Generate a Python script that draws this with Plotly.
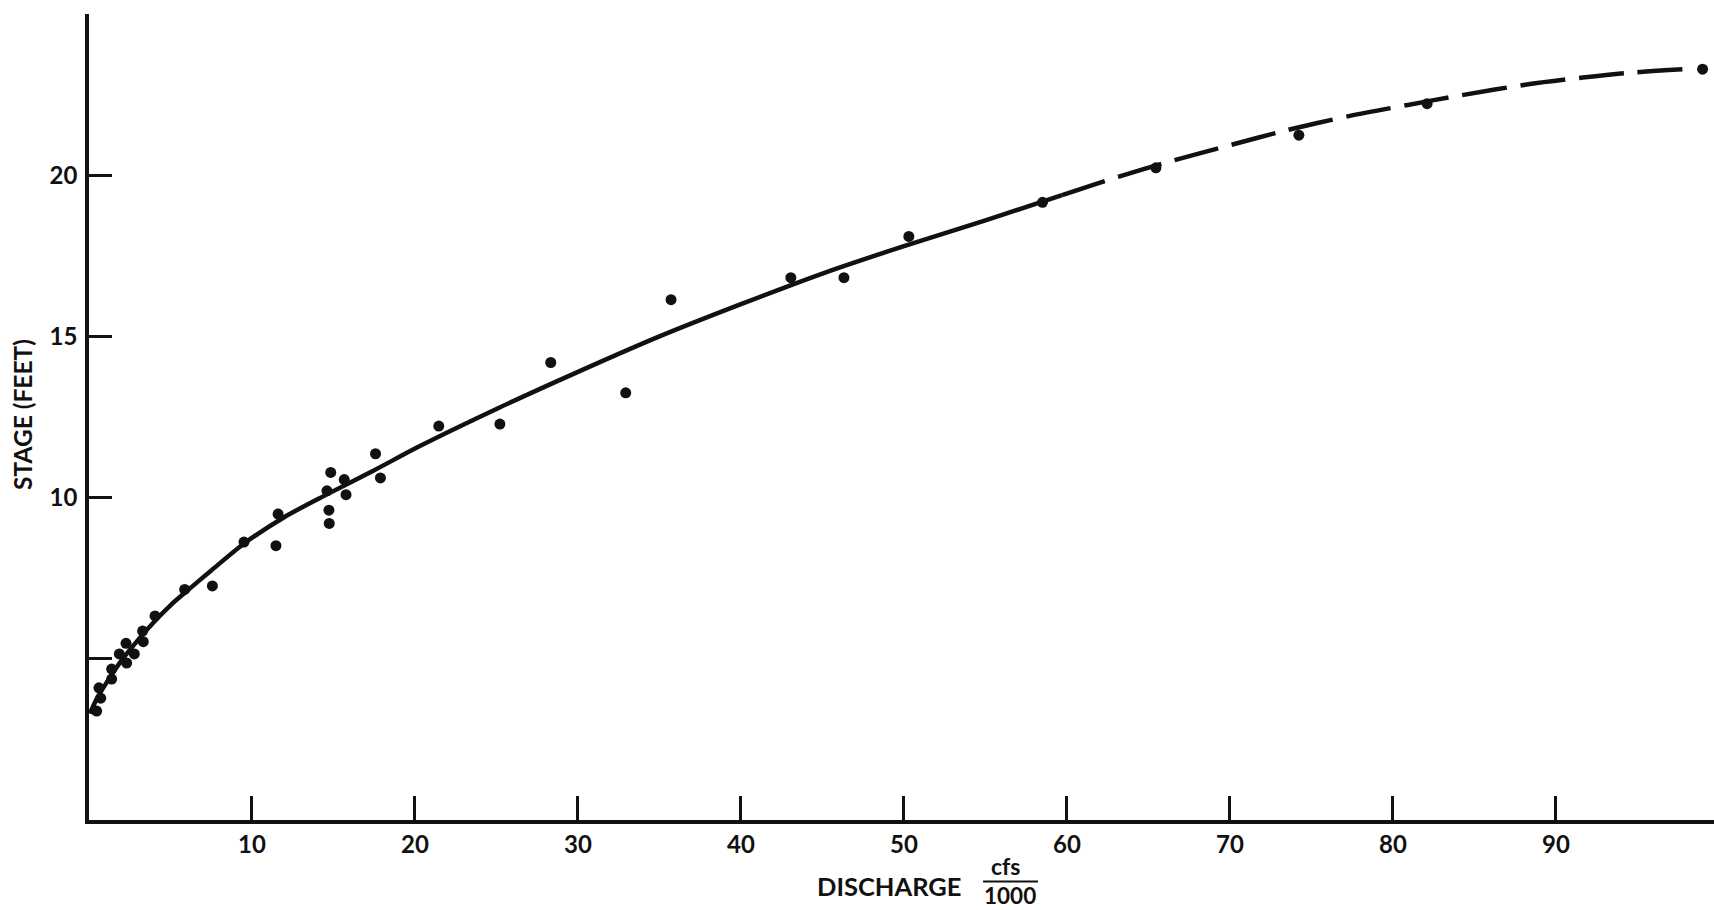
import plotly.graph_objects as go

# Measured discharge (thousand cfs) and stage (feet)
discharge = [0.47, 0.72, 0.61, 1.39, 1.39, 1.86, 2.31, 2.78, 2.27, 3.33, 3.29, 4.05,
             5.87, 7.57, 9.51, 11.47, 11.6, 14.74, 14.72, 14.6, 14.83, 15.66, 15.77,
             17.58, 17.88, 21.46, 25.21, 28.33, 32.93, 35.71, 43.06, 46.32, 50.3,
             58.5, 65.46, 74.23, 82.1, 99.0]
stage = [3.38, 3.78, 4.10, 4.37, 4.68, 5.15, 4.87, 5.15, 5.48, 5.53, 5.86, 6.33,
         7.15, 7.26, 8.62, 8.51, 9.49, 9.2, 9.61, 10.21, 10.78, 10.56, 10.09,
         11.36, 10.61, 12.22, 12.28, 14.19, 13.25, 16.14, 16.82, 16.82, 18.1,
         19.16, 20.23, 21.24, 22.22, 23.29]

# Rating curve, fitted portion
curve_q = [0.05, 0.5, 1.0, 2.0, 3.0, 4.0, 5.0, 6.0, 7.5, 9.5, 12.0, 14.6, 17.5,
           20.3, 25.0, 30.0, 35.0, 40.0, 45.0, 50.0, 55.0, 59.7]
curve_h = [3.3, 3.78, 4.2, 4.95, 5.58, 6.15, 6.66, 7.1, 7.74, 8.57, 9.4, 10.1,
           10.85, 11.6, 12.75, 13.9, 15.0, 16.0, 16.95, 17.8, 18.6, 19.38]

# Rating curve, extrapolated portion
ext_q = [59.7, 62.84, 66.42, 70.0, 73.37, 77.36, 80.92, 84.2, 88.3, 91.65, 94.3, 97.9]
ext_h = [19.38, 19.9, 20.44, 20.93, 21.38, 21.84, 22.18, 22.48, 22.82, 23.03, 23.17, 23.29]

x_ticks = [10, 20, 30, 40, 50, 60, 70, 80, 90]
y_ticks = [5, 10, 15, 20, 25]
y_labels = ["", "10", "15", "20", ""]

FONT = "Lato"
INK = "#111111"


def txt(size):
    return dict(family=FONT, size=size, color=INK, weight=700)


fig = go.Figure()
fig.add_trace(go.Scatter(x=curve_q, y=curve_h, mode="lines",
                         line=dict(color=INK, width=4.5, shape="spline", smoothing=0.8),
                         hoverinfo="skip"))
fig.add_trace(go.Scatter(x=ext_q, y=ext_h, mode="lines",
                         line=dict(color=INK, width=4.5, shape="spline", smoothing=0.8,
                                   dash="45px,14px"),
                         hoverinfo="skip"))
fig.add_trace(go.Scatter(x=discharge, y=stage, mode="markers",
                         marker=dict(color=INK, size=11, line=dict(width=0))))

fig.update_layout(
    width=1714, height=910,
    margin=dict(l=89, r=0, t=14, b=90),
    paper_bgcolor="white", plot_bgcolor="white",
    showlegend=False,
    font=txt(24),
    xaxis=dict(range=[0, 99.7], showgrid=False, zeroline=False,
               showline=True, linecolor=INK, linewidth=3.5,
               ticks="inside", ticklen=24, tickwidth=3, tickcolor=INK,
               tickvals=x_ticks, ticktext=[str(v) for v in x_ticks],
               tickfont=txt(24), ticklabelstandoff=0),
    yaxis=dict(range=[0, 25], showgrid=False, zeroline=False,
               showline=True, linecolor=INK, linewidth=3.5,
               ticks="inside", ticklen=23, tickwidth=3, tickcolor=INK,
               tickvals=y_ticks, ticktext=y_labels,
               tickfont=txt(24), ticklabelstandoff=3),
)

# Axis titles
fig.add_annotation(text="STAGE (FEET)", textangle=-90, xref="paper", yref="paper",
                   x=-0.0406, y=0.5025, xanchor="center", yanchor="middle",
                   showarrow=False, font=txt(24.5))
fig.add_annotation(text="DISCHARGE", xref="paper", yref="paper",
                   x=0.4923, y=-0.0819, xanchor="center", yanchor="middle",
                   showarrow=False, font=txt(25.5))

# Unit fraction cfs / 1000, stacked on either side of its bar
bar_y = -0.0763
fig.add_annotation(text="cfs", xref="paper", yref="paper",
                   x=0.5643, y=bar_y, xanchor="center", yanchor="bottom",
                   borderpad=0, showarrow=False, font=txt(23))
fig.add_annotation(text="1000", xref="paper", yref="paper",
                   x=0.5668, y=bar_y, xanchor="center", yanchor="top",
                   borderpad=0, showarrow=False, font=txt(22.5))
fig.add_shape(type="line", xref="paper", yref="paper",
              x0=0.5502, x1=0.584, y0=bar_y, y1=bar_y,
              line=dict(color=INK, width=2))

fig.write_html("out.html")
